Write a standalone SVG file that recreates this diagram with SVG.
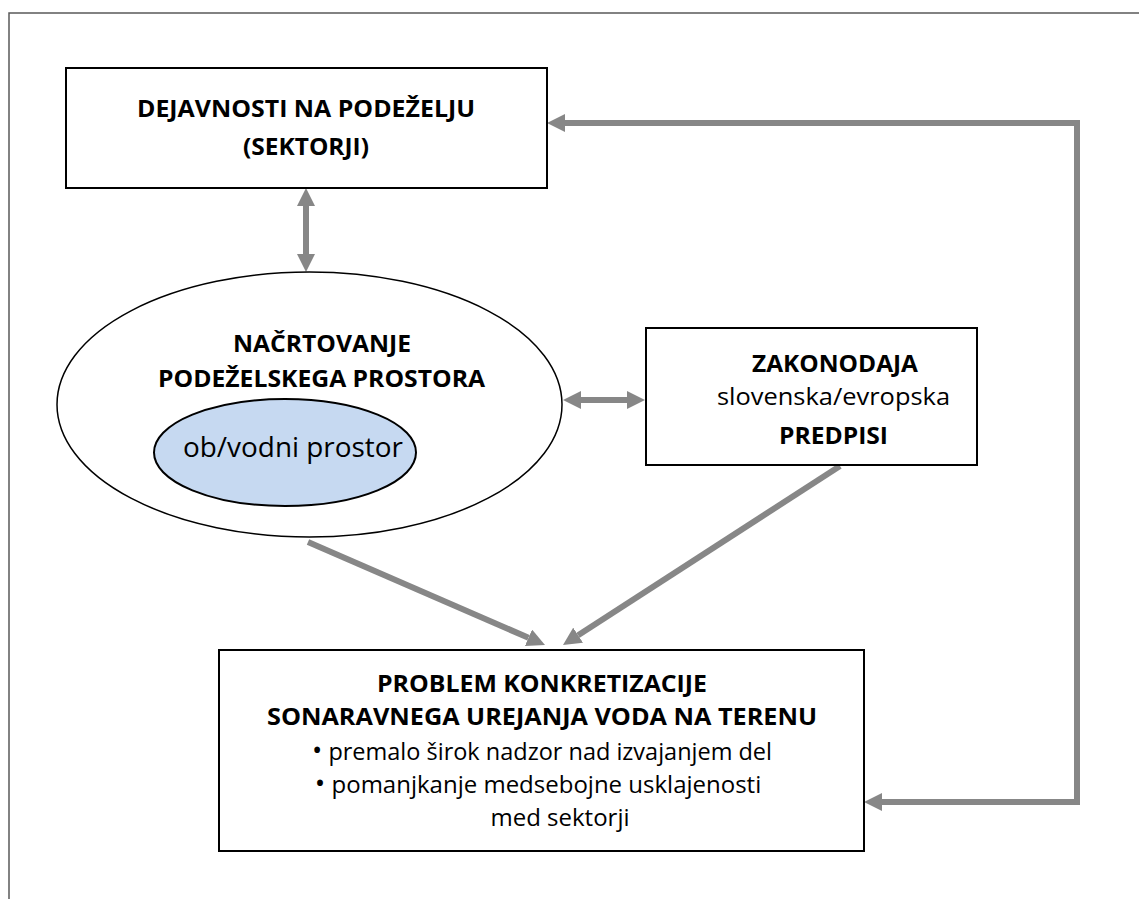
<svg xmlns="http://www.w3.org/2000/svg" width="1139" height="899" viewBox="0 0 1139 899">
<style>
.frame{fill:none;stroke:#595959;stroke-width:1.5}
.box{fill:#fff;stroke:#000;stroke-width:2}
.conn{fill:none;stroke:#878787;stroke-width:6;stroke-linejoin:miter}
.b{font-family:"Open Sans","Liberation Sans",sans-serif;font-weight:bold;font-size:23px;fill:#000;text-anchor:middle}
.r{font-family:"Open Sans","Liberation Sans",sans-serif;font-size:24px;fill:#000;text-anchor:middle}
.bul{font-size:28px}
</style>
<defs>
<marker id="ah" viewBox="0 0 18 18" refX="0" refY="9" markerWidth="18" markerHeight="18" markerUnits="userSpaceOnUse" orient="auto-start-reverse">
<path d="M0,0 L18,9 L0,18 z" fill="#878787"/>
</marker>
</defs>
<rect width="1139" height="899" fill="#fff"/>
<path class="frame" d="M9,899 V13 H1139"/>
<g id="connectors">
<path class="conn" d="M306,206 V254" marker-start="url(#ah)" marker-end="url(#ah)"/>
<path class="conn" d="M581,400 H627" marker-start="url(#ah)" marker-end="url(#ah)"/>
<path class="conn" d="M565,123 H1077 V802 H882" marker-start="url(#ah)" marker-end="url(#ah)"/>
<path class="conn" d="M308,542 L528.5,637.8" marker-end="url(#ah)"/>
<path class="conn" d="M840,466 L578.1,635.2" marker-end="url(#ah)"/>
</g>
<g id="dejavnosti">
<rect class="box" x="66" y="68" width="481" height="120"/>
<text class="b" x="306" y="117" textLength="338" lengthAdjust="spacingAndGlyphs">DEJAVNOSTI NA PODEŽELJU</text>
<text class="b" x="306" y="155" textLength="126" lengthAdjust="spacingAndGlyphs">(SEKTORJI)</text>
</g>
<g id="nacrtovanje">
<ellipse cx="309.5" cy="404.5" rx="252.5" ry="132.5" fill="#fff" stroke="#000" stroke-width="1.5"/>
<text class="b" x="322" y="352" textLength="178" lengthAdjust="spacingAndGlyphs">NAČRTOVANJE</text>
<text class="b" x="321.5" y="387" textLength="327" lengthAdjust="spacingAndGlyphs">PODEŽELSKEGA PROSTORA</text>
</g>
<g id="vodni">
<ellipse cx="285" cy="452.5" rx="131" ry="53.5" fill="#c6d9f1" stroke="#000" stroke-width="2"/>
<text class="r" x="293" y="457" style="font-size:27px" textLength="220" lengthAdjust="spacingAndGlyphs">ob/vodni prostor</text>
</g>
<g id="zakonodaja">
<rect class="box" x="646" y="328" width="331" height="137"/>
<text class="b" x="835" y="372" textLength="166" lengthAdjust="spacingAndGlyphs">ZAKONODAJA</text>
<text class="r" x="833.5" y="405" textLength="233" lengthAdjust="spacingAndGlyphs">slovenska/evropska</text>
<text class="b" x="833.5" y="444" textLength="109" lengthAdjust="spacingAndGlyphs">PREDPISI</text>
</g>
<g id="problem">
<rect class="box" x="219" y="650" width="645" height="201"/>
<text class="b" x="542" y="692" textLength="330" lengthAdjust="spacingAndGlyphs">PROBLEM KONKRETIZACIJE</text>
<text class="b" x="542" y="725" textLength="550" lengthAdjust="spacingAndGlyphs">SONARAVNEGA UREJANJA VODA NA TERENU</text>
<text class="r" x="542" y="760" textLength="460" lengthAdjust="spacingAndGlyphs"><tspan class="bul">•</tspan> premalo širok nadzor nad izvajanjem del</text>
<text class="r" x="538" y="793"><tspan class="bul">•</tspan> pomanjkanje medsebojne usklajenosti</text>
<text class="r" x="560" y="826">med sektorji</text>
</g>
</svg>
